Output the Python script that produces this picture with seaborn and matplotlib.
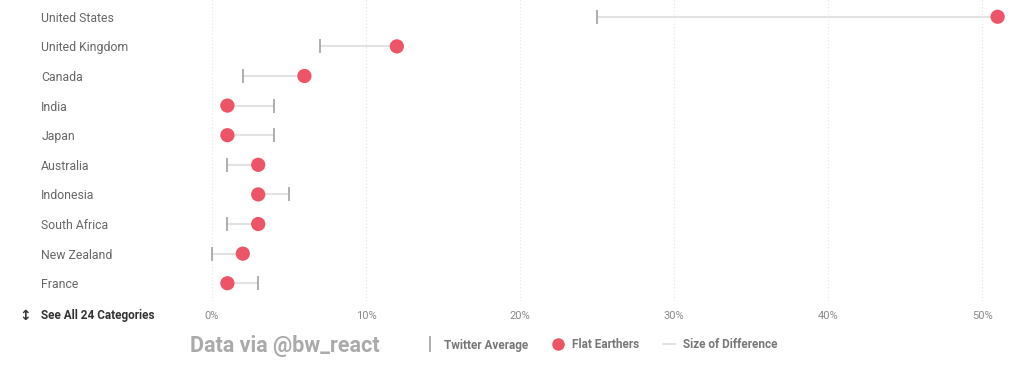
import pandas as pd
import matplotlib.pyplot as plt
import seaborn as sns
from matplotlib.lines import Line2D

# Values (percent)
countries = ["United States", "United Kingdom", "Canada", "India", "Japan",
             "Australia", "Indonesia", "South Africa", "New Zealand", "France"]
twitter_avg = [25, 7, 2, 4, 4, 1, 5, 1, 0, 3]
flat_earthers = [51, 12, 6, 1, 1, 3, 3, 3, 2, 1]
x_ticks = [0, 10, 20, 30, 40, 50]
x_tick_labels = ["0%", "10%", "20%", "30%", "40%", "50%"]

df = pd.DataFrame({"Country": countries,
                   "Twitter Average": twitter_avg,
                   "Flat Earthers": flat_earthers})
df["row"] = range(len(df))

sns.set_style("white")
plt.rcParams["font.family"] = ["Roboto", "DejaVu Sans"]

red = "#EE5468"
tick_grey = "#9a9a9a"
line_grey = "#e2e2e2"

fig = plt.figure(figsize=(10.24, 3.66), dpi=100)
ax = fig.add_axes([212 / 1024, 1 - 301 / 366, 801 / 1024, 302 / 366])

# difference lines
ax.hlines(df["row"], df["Twitter Average"], df["Flat Earthers"],
          color=line_grey, linewidth=1.5, zorder=1)

# twitter average ticks
sns.scatterplot(data=df, x="Twitter Average", y="row", marker="|", s=110,
                color=tick_grey, linewidth=1.1, ax=ax, zorder=2, clip_on=False,
                legend=False)
# flat earther dots
sns.scatterplot(data=df, x="Flat Earthers", y="row", s=105, color=red,
                edgecolor="none", ax=ax, zorder=3, clip_on=False, legend=False)

ax.set_xlim(0, 52)
ax.set_ylim(len(df) - 0.4, -0.6)
ax.set_xticks(x_ticks)
ax.set_xticklabels(x_tick_labels, fontsize=8, color="#8a8a8a")
ax.set_yticks(df["row"])
ax.set_yticklabels(df["Country"], fontsize=8.8, color="#666666", ha="left")
ax.tick_params(axis="y", length=0, pad=123)
ax.tick_params(axis="x", length=0, pad=7)
ax.set_xlabel("")
ax.set_ylabel("")
for s in ax.spines.values():
    s.set_visible(False)
ax.grid(axis="x", color="#e6e6e6", linestyle=(0, (1, 2)), linewidth=0.8)
ax.set_axisbelow(True)

# "see all" label in the tick-label row
fig.text(25 / 1024, 1 - 316 / 366, "\u2195", fontsize=10, color="#333333",
         ha="center", va="center", family=["DejaVu Sans"], fontweight="bold")
fig.text(41 / 1024, 1 - 316 / 366, "See All 24 Categories", fontsize=8.5,
         color="#333333", fontweight="bold", ha="left", va="center")

fig.text(190 / 1024, 1 - 346 / 366, "Data via @bw_react", fontsize=15.5,
         color="#aaaaaa", fontweight="bold", ha="left", va="center")

handles = [
    Line2D([], [], marker="|", linestyle="none", color=tick_grey,
           markersize=11, markeredgewidth=1.1),
    Line2D([], [], marker="o", linestyle="none", color=red, markersize=8),
    Line2D([], [], color=line_grey, linewidth=1.5),
]
labels = ["Twitter Average", "Flat Earthers", "Size of Difference"]
leg = fig.legend(handles, labels, loc="center", ncol=3, frameon=False,
                 bbox_to_anchor=(601 / 1024, 1 - 345 / 366), handlelength=1.0,
                 handletextpad=0.7, columnspacing=2.0,
                 prop={"size": 8.5, "weight": "bold"})
for t in leg.get_texts():
    t.set_color("#777777")

fig.savefig("out.png", dpi=100, facecolor="white")
